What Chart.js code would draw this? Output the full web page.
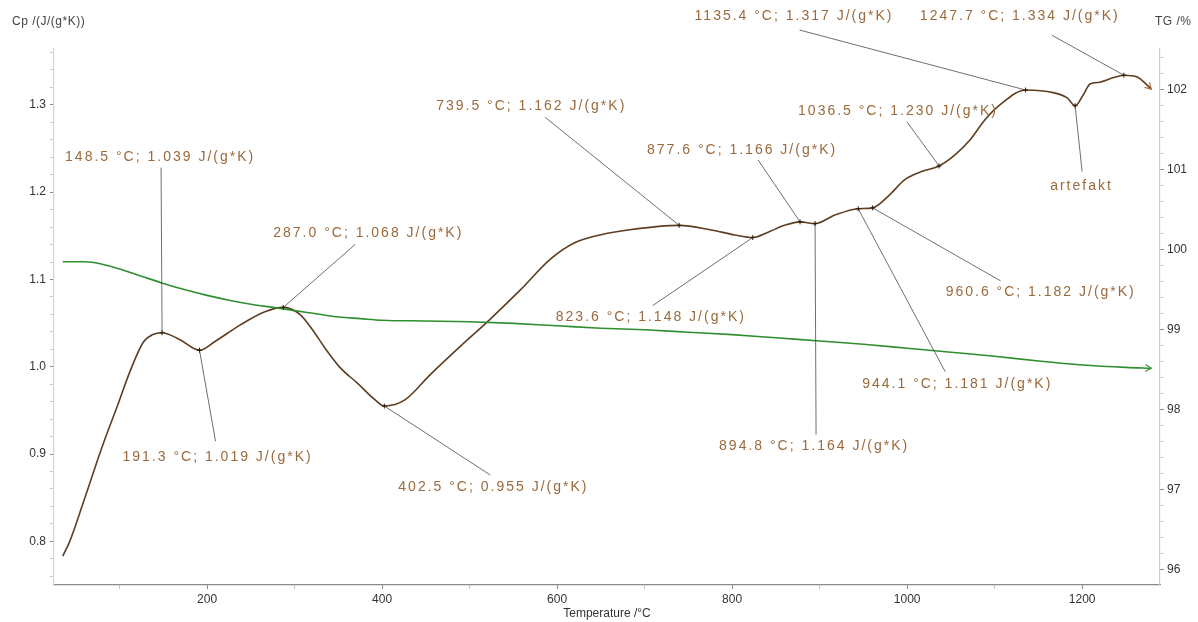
<!DOCTYPE html>
<html>
<head>
<meta charset="utf-8">
<script src="https://cdn.jsdelivr.net/npm/chart.js@4.4.1/dist/chart.umd.min.js"></script>
<style>
  html, body { margin: 0; padding: 0; background: #ffffff; }
  #wrap { width: 1198px; height: 622px; position: relative; }
</style>
</head>
<body>
<div id="wrap"><canvas id="chart" width="1198" height="622"></canvas></div>
<script>
// Specific heat capacity curve: temperature (°C) and Cp (J/(g*K))
const cpTemp = [35, 43, 58, 72, 85, 97, 112, 127, 138, 148.5, 169, 191.3, 209, 238, 266, 287.0, 306, 320, 335, 352, 372, 392, 402.5,
  426, 455, 489, 523, 558, 592, 620, 649, 683, 739.5, 775, 803, 823.6, 843, 860, 877.6, 894.8, 918, 944.1, 960.6,
  980, 997, 1015, 1036.5, 1055, 1072, 1089, 1106, 1135.4, 1167, 1183, 1192, 1201, 1209, 1220, 1235, 1247.7, 1263, 1274, 1279];
const cpValue = [0.783, 0.800, 0.843, 0.885, 0.922, 0.954, 0.995, 1.028, 1.037, 1.039, 1.031, 1.019, 1.029, 1.048, 1.063, 1.068, 1.060, 1.043, 1.021, 0.999, 0.981, 0.962, 0.955,
  0.962, 0.991, 1.023, 1.054, 1.088, 1.123, 1.142, 1.151, 1.157, 1.162, 1.157, 1.151, 1.148, 1.155, 1.162, 1.166, 1.164, 1.174, 1.181, 1.182,
  1.197, 1.214, 1.223, 1.230, 1.243, 1.260, 1.283, 1.300, 1.317, 1.314, 1.308, 1.299, 1.311, 1.324, 1.326, 1.331, 1.334, 1.332, 1.323, 1.318];

// Thermogravimetry curve: temperature (°C) and mass (%)
const tgTemp = [35, 60, 80, 100, 125, 150, 175, 200, 225, 250, 275, 300, 325, 350, 375, 400, 450, 500, 550, 600, 650, 700,
  750, 800, 850, 900, 950, 1000, 1050, 1100, 1150, 1200, 1250, 1279];
const tgValue = [99.85, 99.85, 99.82, 99.76, 99.67, 99.58, 99.50, 99.43, 99.37, 99.32, 99.28, 99.24, 99.20, 99.16, 99.14, 99.12, 99.11, 99.10, 99.08, 99.05, 99.02, 99.00,
  98.97, 98.94, 98.90, 98.86, 98.82, 98.77, 98.72, 98.67, 98.61, 98.56, 98.53, 98.52];

// Evaluated peaks and minima on the Cp curve
const peakTemp = [148.5, 191.3, 287.0, 402.5, 739.5, 823.6, 877.6, 894.8, 944.1, 960.6, 1036.5, 1135.4, 1247.7];
const peakCp = [1.039, 1.019, 1.068, 0.955, 1.162, 1.148, 1.166, 1.164, 1.181, 1.182, 1.230, 1.317, 1.334];

// Measurement artefact on the Cp curve
const noteText = ['artefakt'];
const noteTemp = [1192];
const noteCp = [1.299];

// Axis tick labels
const tempTicks = [200, 400, 600, 800, 1000, 1200];
const cpTicks = [0.8, 0.9, 1.0, 1.1, 1.2, 1.3];
const tgTicks = [96, 97, 98, 99, 100, 101, 102];

// Label placement relative to each evaluated point: [labelDx, labelDy, leaderDx, leaderDy] in px
const peakLayout = [
  [-97, -176, -1, -165],
  [-77, 107, 16, 91],
  [-10, -74, 72, -63],
  [14, 81, 106, 69],
  [-243, -119, -134, -108],
  [-197, 80, -100, 68],
  [-153, -72, -42, -62],
  [-96, 223, 1, 211],
  [4, 175, 87, 163],
  [73, 84, 128, 73],
  [-141, -55, -32, -44],
  [-331, -74, -226, -60],
  [-204, -59, -72, -40]
];
const noteLayout = [[-25, 80, 7, 66]];

const LABEL_COLOR = '#9a6a3c';
const LEADER_COLOR = '#4a4a4a';
const TICK_COLOR = '#333333';
const FONT = '"Liberation Sans", Arial, sans-serif';

function fmtPeak(t, cp) {
  return t.toFixed(1) + ' °C; ' + cp.toFixed(3) + ' J/(g*K)';
}

function rangeTicks(lo, hi, step) {
  const out = [];
  for (let v = lo; v <= hi + step / 1000; v += step) out.push({ value: Math.round(v * 1000) / 1000 });
  return out;
}

function isLabelTick(list, v) {
  return list.some(t => Math.abs(t - v) < 1e-6);
}

// Small arrowhead at the end of a curve, pointing along its last segment
function endArrow(ctx, chart, dsIndex, color) {
  const pts = chart.getDatasetMeta(dsIndex).data;
  if (pts.length < 2) return;
  const a = pts[pts.length - 2], b = pts[pts.length - 1];
  const ang = Math.atan2(b.y - a.y, b.x - a.x);
  ctx.save();
  ctx.translate(b.x, b.y);
  ctx.rotate(ang);
  ctx.strokeStyle = color;
  ctx.lineWidth = 1.2;
  ctx.beginPath();
  ctx.moveTo(-6, -3.5); ctx.lineTo(0, 0); ctx.lineTo(-6, 3.5);
  ctx.stroke();
  ctx.restore();
}

const annotationPlugin = {
  id: 'peakLabels',
  afterDatasetsDraw(chart) {
    const ctx = chart.ctx;
    const xs = chart.scales.x, ys = chart.scales.y;
    endArrow(ctx, chart, 0, '#3c9a3c');
    endArrow(ctx, chart, 1, '#b0703a');
    ctx.save();
    ctx.font = '14px ' + FONT;
    ctx.letterSpacing = '2px';
    ctx.textBaseline = 'middle';
    ctx.textAlign = 'left';
    const drawOne = (t, cp, lay, text) => {
      const px = xs.getPixelForValue(t), py = ys.getPixelForValue(cp);
      ctx.strokeStyle = LEADER_COLOR;
      ctx.lineWidth = 0.8;
      ctx.beginPath();
      ctx.moveTo(px, py);
      ctx.lineTo(px + lay[2], py + lay[3]);
      ctx.stroke();
      // small cross marking the evaluated point
      ctx.strokeStyle = '#2a1a0a';
      ctx.lineWidth = 1;
      ctx.beginPath();
      ctx.moveTo(px - 2.5, py); ctx.lineTo(px + 2.5, py);
      ctx.moveTo(px, py - 2.5); ctx.lineTo(px, py + 2.5);
      ctx.stroke();
      ctx.fillStyle = LABEL_COLOR;
      ctx.fillText(text, px + lay[0], py + lay[1]);
    };
    peakTemp.forEach((t, i) => drawOne(t, peakCp[i], peakLayout[i], fmtPeak(t, peakCp[i])));
    noteText.forEach((s, i) => drawOne(noteTemp[i], noteCp[i], noteLayout[i], s));
    ctx.restore();
  },
  afterDraw(chart) {
    const ctx = chart.ctx;
    ctx.save();
    ctx.font = '12px ' + FONT;
    ctx.letterSpacing = '0.5px';
    ctx.fillStyle = '#444444';
    ctx.textBaseline = 'middle';
    ctx.textAlign = 'left';
    ctx.fillText('Cp /(J/(g*K))', 12, 22);
    ctx.fillText('TG /%', 1155, 22);
    ctx.restore();
  }
};

const ctx = document.getElementById('chart').getContext('2d');
new Chart(ctx, {
  type: 'scatter',
  data: {
    datasets: [
      {
        label: 'TG',
        data: tgTemp.map((t, i) => ({ x: t, y: tgValue[i] })),
        yAxisID: 'y2',
        showLine: true,
        borderColor: '#2f8f2f',
        borderWidth: 1.6,
        pointRadius: 0,
        cubicInterpolationMode: 'monotone'
      },
      {
        label: 'Cp',
        data: cpTemp.map((t, i) => ({ x: t, y: cpValue[i] })),
        yAxisID: 'y',
        showLine: true,
        borderColor: '#5e3e20',
        borderWidth: 1.6,
        pointRadius: 0,
        cubicInterpolationMode: 'monotone'
      }
    ]
  },
  options: {
    responsive: false,
    animation: false,
    devicePixelRatio: 1,
    layout: { padding: { top: 49, left: 0, right: 0, bottom: 0 } },
    plugins: { legend: { display: false }, tooltip: { enabled: false } },
    scales: {
      x: {
        type: 'linear',
        position: 'bottom',
        min: 25,
        max: 1289,
        afterFit(s) { s.height = 37; },
        afterBuildTicks(s) { s.ticks = rangeTicks(100, 1200, 100); },
        border: { color: '#8a8a8a', width: 1.2 },
        grid: {
          drawOnChartArea: false,
          tickLength: 4,
          color: c => (c.tick && isLabelTick(tempTicks, c.tick.value)) ? '#8a8a8a' : '#c8c8c8'
        },
        ticks: {
          autoSkip: false,
          maxRotation: 0,
          padding: 3,
          color: TICK_COLOR,
          font: { family: FONT, size: 12 },
          callback: v => isLabelTick(tempTicks, v) ? String(v) : ''
        },
        title: {
          display: true,
          text: 'Temperature /°C',
          color: '#333333',
          font: { family: FONT, size: 12 },
          padding: { top: 0, bottom: 1 }
        }
      },
      y: {
        type: 'linear',
        position: 'left',
        min: 0.75,
        max: 1.364,
        afterFit(s) { s.width = 54; },
        afterBuildTicks(s) { s.ticks = rangeTicks(0.76, 1.36, 0.02); },
        border: { color: '#e2d2c2', width: 1.2 },
        grid: {
          drawOnChartArea: false,
          tickLength: 4,
          color: c => (c.tick && isLabelTick(cpTicks, c.tick.value)) ? '#8a8a8a' : '#d8cabb'
        },
        ticks: {
          autoSkip: false,
          padding: 4,
          color: TICK_COLOR,
          font: { family: FONT, size: 12 },
          callback: v => isLabelTick(cpTicks, v) ? v.toFixed(1) : ''
        }
      },
      y2: {
        type: 'linear',
        position: 'right',
        min: 95.81,
        max: 102.51,
        afterFit(s) { s.width = 38; },
        afterBuildTicks(s) { s.ticks = rangeTicks(96, 102.4, 0.2); },
        border: { color: '#b8dcb8', width: 1.2 },
        grid: {
          drawOnChartArea: false,
          tickLength: 4,
          color: c => (c.tick && isLabelTick(tgTicks, c.tick.value)) ? '#8a8a8a' : '#c8e2c8'
        },
        ticks: {
          autoSkip: false,
          padding: 3,
          color: TICK_COLOR,
          font: { family: FONT, size: 12 },
          callback: v => isLabelTick(tgTicks, v) ? String(v) : ''
        }
      }
    }
  },
  plugins: [annotationPlugin]
});
</script>
</body>
</html>
